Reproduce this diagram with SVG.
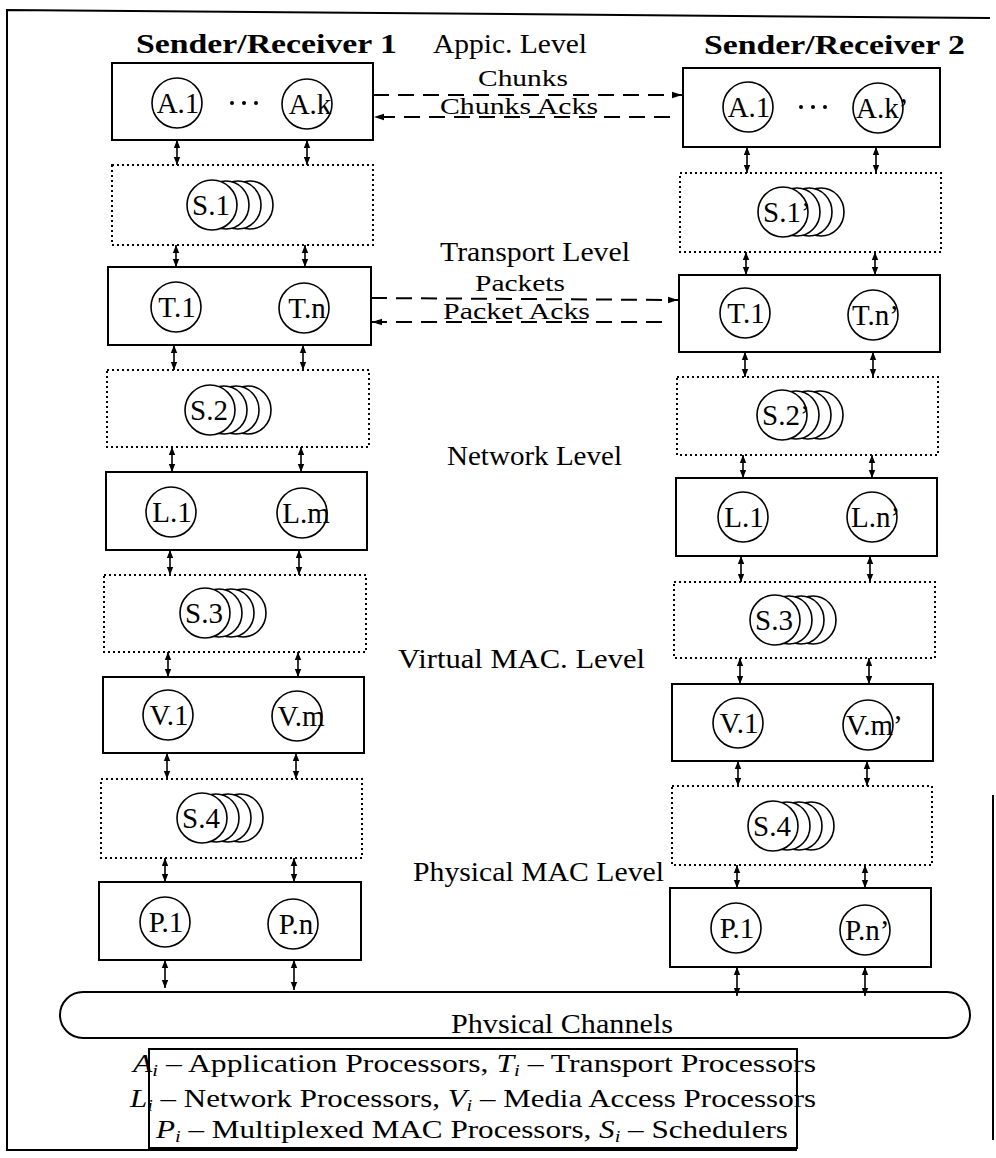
<svg xmlns="http://www.w3.org/2000/svg" width="996" height="1158" viewBox="0 0 996 1158">
<style>
  .box{fill:#fff;stroke:#000;stroke-width:2}
  .dbox{fill:none;stroke:#000;stroke-width:2;stroke-dasharray:2 3}
  .c{fill:#fff;stroke:#000;stroke-width:1.6}
  .t{font-family:"Liberation Serif","Times New Roman",serif;font-size:24px;fill:#000}
  .n{font-family:"Liberation Serif","Times New Roman",serif;font-size:29px;fill:#000}
  .lv{font-family:"Liberation Serif","Times New Roman",serif;font-size:28px;fill:#000}
  .ttl{font-family:"Liberation Serif","Times New Roman",serif;font-size:28px;font-weight:bold;fill:#000}
  .lg{font-family:"Liberation Serif","Times New Roman",serif;font-size:26px;fill:#000}
  .it{font-style:italic}
  .va{stroke:#000;stroke-width:1.6;fill:none;marker-start:url(#ah);marker-end:url(#ah)}
  .dash{stroke:#000;stroke-width:2;fill:none;stroke-dasharray:16 9}
  .frame{stroke:#000;stroke-width:2;fill:none}
</style>
<defs>
  <marker id="ah" viewBox="0 0 8 8" refX="8" refY="4" markerWidth="8" markerHeight="8" markerUnits="userSpaceOnUse" orient="auto-start-reverse">
    <path d="M0,0.8 L8,4 L0,7.2 Z" fill="#000"/>
  </marker>
  <marker id="ah2" viewBox="0 0 10 8" refX="10" refY="4" markerWidth="10" markerHeight="8" markerUnits="userSpaceOnUse" orient="auto">
    <path d="M0,0.8 L10,4 L0,7.2 Z" fill="#000"/>
  </marker>
</defs>

<!-- frame -->
<g id="frame">
  <polyline class="frame" points="797,1150 7,1150 7,10 990,18"/>
  <line class="frame" x1="993" y1="795" x2="993" y2="1140" stroke-width="1.5"/>
</g>

<!-- labels -->
<g id="labels">
  <text class="ttl" x="136" y="53" textLength="261" lengthAdjust="spacingAndGlyphs">Sender/Receiver 1</text>
  <text class="ttl" x="704" y="54" textLength="261" lengthAdjust="spacingAndGlyphs">Sender/Receiver 2</text>
  <text class="lv" x="433" y="53" textLength="154" lengthAdjust="spacingAndGlyphs">Appic. Level</text>
  <text class="t" x="478" y="86" textLength="90" lengthAdjust="spacingAndGlyphs">Chunks</text>
  <text class="t" x="440" y="114" textLength="158" lengthAdjust="spacingAndGlyphs">Chunks Acks</text>
  <text class="lv" x="440" y="261" textLength="190" lengthAdjust="spacingAndGlyphs">Transport Level</text>
  <text class="t" x="475" y="291" textLength="90" lengthAdjust="spacingAndGlyphs">Packets</text>
  <text class="t" x="443" y="319" textLength="147" lengthAdjust="spacingAndGlyphs">Packet Acks</text>
  <text class="lv" x="447" y="465" textLength="175" lengthAdjust="spacingAndGlyphs">Network Level</text>
  <text class="lv" x="398" y="668" textLength="247" lengthAdjust="spacingAndGlyphs">Virtual MAC. Level</text>
  <text class="lv" x="413" y="881" textLength="251" lengthAdjust="spacingAndGlyphs">Physical MAC Level</text>
</g>

<!-- Left column (Sender/Receiver 1) -->
<g id="L-app">
  <rect class="box" x="112" y="63" width="261" height="77"/>
  <circle class="c" cx="177" cy="103" r="25"/><text class="n" x="178" y="113" text-anchor="middle">A.1</text>
  <circle cx="232" cy="103" r="2"/><circle cx="244" cy="103" r="2"/><circle cx="256" cy="103" r="2"/>
  <circle class="c" cx="307" cy="104" r="25"/><text class="n" x="310" y="114" text-anchor="middle">A.k</text>
</g>
<g id="L-s1">
  <rect class="dbox" x="112" y="165" width="261" height="80"/>
  <ellipse class="c" cx="250" cy="205" rx="23" ry="24"/><ellipse class="c" cx="238" cy="205" rx="23" ry="24"/><ellipse class="c" cx="226" cy="205" rx="23" ry="24"/>
  <circle class="c" cx="212" cy="205" r="25"/><text class="n" x="192" y="215">S.1</text>
</g>
<g id="L-trans">
  <rect class="box" x="108" y="267" width="263" height="78"/>
  <circle class="c" cx="176" cy="307" r="25"/><text class="n" x="177" y="317" text-anchor="middle">T.1</text>
  <circle class="c" cx="304" cy="308" r="25"/><text class="n" x="307" y="318" text-anchor="middle">T.n</text>
</g>
<g id="L-s2">
  <rect class="dbox" x="107" y="370" width="262" height="77"/>
  <ellipse class="c" cx="248" cy="410" rx="23" ry="24"/><ellipse class="c" cx="236" cy="410" rx="23" ry="24"/><ellipse class="c" cx="224" cy="410" rx="23" ry="24"/>
  <circle class="c" cx="210" cy="410" r="25"/><text class="n" x="190" y="420">S.2</text>
</g>
<g id="L-net">
  <rect class="box" x="106" y="472" width="261" height="78"/>
  <circle class="c" cx="171" cy="512" r="25"/><text class="n" x="172" y="522" text-anchor="middle">L.1</text>
  <circle class="c" cx="302" cy="513" r="25"/><text class="n" x="306" y="523" text-anchor="middle">L.m</text>
</g>
<g id="L-s3">
  <rect class="dbox" x="104" y="575" width="262" height="77"/>
  <ellipse class="c" cx="243" cy="613" rx="23" ry="24"/><ellipse class="c" cx="231" cy="613" rx="23" ry="24"/><ellipse class="c" cx="219" cy="613" rx="23" ry="24"/>
  <circle class="c" cx="205" cy="613" r="25"/><text class="n" x="185" y="623">S.3</text>
</g>
<g id="L-vmac">
  <rect class="box" x="103" y="677" width="261" height="76"/>
  <circle class="c" cx="168" cy="715" r="25"/><text class="n" x="169" y="725" text-anchor="middle">V.1</text>
  <circle class="c" cx="297" cy="716" r="25"/><text class="n" x="301" y="726" text-anchor="middle">V.m</text>
</g>
<g id="L-s4">
  <rect class="dbox" x="101" y="779" width="261" height="79"/>
  <ellipse class="c" cx="240" cy="818" rx="23" ry="24"/><ellipse class="c" cx="228" cy="818" rx="23" ry="24"/><ellipse class="c" cx="216" cy="818" rx="23" ry="24"/>
  <circle class="c" cx="202" cy="818" r="25"/><text class="n" x="182" y="828">S.4</text>
</g>
<g id="L-phys">
  <rect class="box" x="99" y="882" width="262" height="78"/>
  <circle class="c" cx="165" cy="922" r="25"/><text class="n" x="166" y="932" text-anchor="middle">P.1</text>
  <circle class="c" cx="293" cy="924" r="25"/><text class="n" x="296" y="934" text-anchor="middle">P.n</text>
</g>

<!-- Right column (Sender/Receiver 2) -->
<g id="R-app">
  <rect class="box" x="683" y="68" width="257" height="79"/>
  <circle class="c" cx="748" cy="107" r="25"/><text class="n" x="749" y="117" text-anchor="middle">A.1</text>
  <circle cx="801" cy="107" r="2"/><circle cx="813" cy="107" r="2"/><circle cx="825" cy="107" r="2"/>
  <circle class="c" cx="878" cy="108" r="25"/><text class="n" x="856" y="118">A.k’</text>
</g>
<g id="R-s1">
  <rect class="dbox" x="680" y="173" width="261" height="79"/>
  <ellipse class="c" cx="821" cy="212" rx="23" ry="24"/><ellipse class="c" cx="809" cy="212" rx="23" ry="24"/><ellipse class="c" cx="797" cy="212" rx="23" ry="24"/>
  <circle class="c" cx="783" cy="212" r="25"/><text class="n" x="763" y="222">S.1’</text>
</g>
<g id="R-trans">
  <rect class="box" x="679" y="275" width="261" height="77"/>
  <circle class="c" cx="745" cy="313" r="25"/><text class="n" x="746" y="323" text-anchor="middle">T.1</text>
  <circle class="c" cx="873" cy="315" r="25"/><text class="n" x="852" y="325">T.n’</text>
</g>
<g id="R-s2">
  <rect class="dbox" x="677" y="377" width="261" height="78"/>
  <ellipse class="c" cx="820" cy="415" rx="23" ry="24"/><ellipse class="c" cx="808" cy="415" rx="23" ry="24"/><ellipse class="c" cx="796" cy="415" rx="23" ry="24"/>
  <circle class="c" cx="782" cy="415" r="25"/><text class="n" x="762" y="425">S.2’</text>
</g>
<g id="R-net">
  <rect class="box" x="676" y="478" width="261" height="78"/>
  <circle class="c" cx="743" cy="517" r="25"/><text class="n" x="744" y="527" text-anchor="middle">L.1</text>
  <circle class="c" cx="872" cy="517" r="25"/><text class="n" x="851" y="527">L.n’</text>
</g>
<g id="R-s3">
  <rect class="dbox" x="674" y="582" width="261" height="76"/>
  <ellipse class="c" cx="813" cy="620" rx="23" ry="24"/><ellipse class="c" cx="801" cy="620" rx="23" ry="24"/><ellipse class="c" cx="789" cy="620" rx="23" ry="24"/>
  <circle class="c" cx="775" cy="620" r="25"/><text class="n" x="755" y="630">S.3</text>
</g>
<g id="R-vmac">
  <rect class="box" x="672" y="684" width="261" height="77"/>
  <circle class="c" cx="738" cy="723" r="25"/><text class="n" x="739" y="733" text-anchor="middle">V.1</text>
  <circle class="c" cx="868" cy="725" r="25"/><text class="n" x="846" y="735">V.m’</text>
</g>
<g id="R-s4">
  <rect class="dbox" x="672" y="786" width="260" height="79"/>
  <ellipse class="c" cx="811" cy="826" rx="23" ry="24"/><ellipse class="c" cx="799" cy="826" rx="23" ry="24"/><ellipse class="c" cx="787" cy="826" rx="23" ry="24"/>
  <circle class="c" cx="773" cy="826" r="25"/><text class="n" x="753" y="836">S.4</text>
</g>
<g id="R-phys">
  <rect class="box" x="670" y="888" width="261" height="79"/>
  <circle class="c" cx="736" cy="928" r="25"/><text class="n" x="737" y="938" text-anchor="middle">P.1</text>
  <circle class="c" cx="865" cy="930" r="25"/><text class="n" x="845" y="940">P.n’</text>
</g>

<!-- Physical channels -->
<g id="channels">
  <rect class="box" x="60" y="992" width="910" height="46" rx="23" ry="23"/>
  <text class="lv" x="451" y="1033" textLength="222" lengthAdjust="spacingAndGlyphs">Phvsical Channels</text>
</g>

<!-- Legend -->
<g id="legend">
  <rect x="149" y="1049" width="648" height="99" fill="none" stroke="#000" stroke-width="2"/>
  <text class="lg" x="133" y="1072" textLength="683" lengthAdjust="spacingAndGlyphs"><tspan class="it">A</tspan><tspan class="it" font-size="17" dy="4">i</tspan><tspan dy="-4"> – Application Processors, </tspan><tspan class="it">T</tspan><tspan class="it" font-size="17" dy="4">i</tspan><tspan dy="-4"> – Transport Processors</tspan></text>
  <text class="lg" x="130" y="1107" textLength="686" lengthAdjust="spacingAndGlyphs"><tspan class="it">L</tspan><tspan class="it" font-size="17" dy="4">i</tspan><tspan dy="-4"> – Network Processors, </tspan><tspan class="it">V</tspan><tspan class="it" font-size="17" dy="4">i</tspan><tspan dy="-4"> – Media Access Processors</tspan></text>
  <text class="lg" x="156" y="1138" textLength="632" lengthAdjust="spacingAndGlyphs"><tspan class="it">P</tspan><tspan class="it" font-size="17" dy="4">i</tspan><tspan dy="-4"> – Multiplexed MAC Processors, </tspan><tspan class="it">S</tspan><tspan class="it" font-size="17" dy="4">i</tspan><tspan dy="-4"> – Schedulers</tspan></text>
</g>

<!-- Connectors -->
<g id="connectors">
  <line class="va" x1="177" y1="140" x2="177" y2="165"/><line class="va" x1="307" y1="140" x2="307" y2="165"/>
  <line class="va" x1="176" y1="245" x2="176" y2="267"/><line class="va" x1="305" y1="245" x2="305" y2="267"/>
  <line class="va" x1="174" y1="345" x2="174" y2="370"/><line class="va" x1="303" y1="345" x2="303" y2="370"/>
  <line class="va" x1="172" y1="447" x2="172" y2="472"/><line class="va" x1="301" y1="447" x2="301" y2="472"/>
  <line class="va" x1="170" y1="550" x2="170" y2="575"/><line class="va" x1="299" y1="550" x2="299" y2="575"/>
  <line class="va" x1="168" y1="652" x2="168" y2="677"/><line class="va" x1="298" y1="652" x2="298" y2="677"/>
  <line class="va" x1="167" y1="753" x2="167" y2="779"/><line class="va" x1="296" y1="753" x2="296" y2="779"/>
  <line class="va" x1="165" y1="858" x2="165" y2="882"/><line class="va" x1="294" y1="858" x2="294" y2="882"/>
  <line class="va" x1="165" y1="960" x2="165" y2="988"/><line class="va" x1="294" y1="960" x2="294" y2="990"/>
  <line class="va" x1="747" y1="147" x2="747" y2="173"/><line class="va" x1="876" y1="147" x2="876" y2="173"/>
  <line class="va" x1="746" y1="252" x2="746" y2="275"/><line class="va" x1="875" y1="252" x2="875" y2="275"/>
  <line class="va" x1="745" y1="352" x2="745" y2="377"/><line class="va" x1="873" y1="352" x2="873" y2="377"/>
  <line class="va" x1="743" y1="455" x2="743" y2="478"/><line class="va" x1="872" y1="455" x2="872" y2="478"/>
  <line class="va" x1="741" y1="556" x2="741" y2="582"/><line class="va" x1="870" y1="556" x2="870" y2="582"/>
  <line class="va" x1="740" y1="658" x2="740" y2="684"/><line class="va" x1="869" y1="658" x2="869" y2="684"/>
  <line class="va" x1="738" y1="761" x2="738" y2="786"/><line class="va" x1="867" y1="761" x2="867" y2="786"/>
  <line class="va" x1="737" y1="865" x2="737" y2="888"/><line class="va" x1="865" y1="865" x2="865" y2="888"/>
  <line class="va" x1="737" y1="967" x2="737" y2="996"/><line class="va" x1="865" y1="967" x2="865" y2="996"/>
  <line class="dash" x1="373" y1="95" x2="682" y2="95" marker-end="url(#ah2)"/>
  <line class="dash" x1="670" y1="117" x2="374" y2="117" marker-end="url(#ah2)"/>
  <line class="dash" x1="371" y1="298" x2="678" y2="300" marker-end="url(#ah2)"/>
  <line class="dash" x1="662" y1="322" x2="372" y2="322" marker-end="url(#ah2)"/>
</g>
</svg>
